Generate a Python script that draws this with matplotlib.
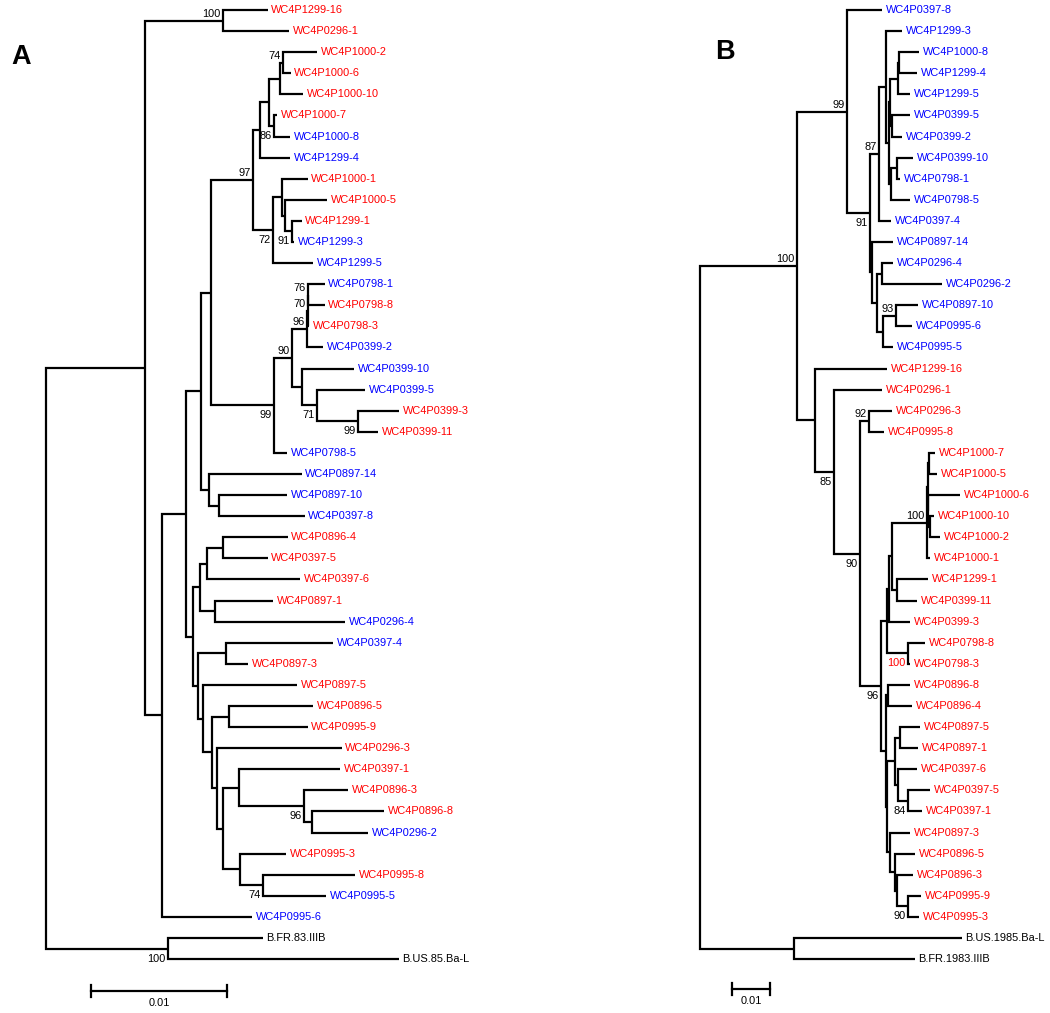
import matplotlib
matplotlib.use("Agg")
import matplotlib.pyplot as plt

plt.rcParams['font.family'] = ['Liberation Sans', 'DejaVu Sans']

COLORS = {'r': '#ff0000', 'b': '#0000ff', 'k': 'black'}
FS = 7.9

# ---------------- panel A ----------------
a_leaves = ["WC4P1299-16", "WC4P0296-1", "WC4P1000-2", "WC4P1000-6", "WC4P1000-10",
            "WC4P1000-7", "WC4P1000-8", "WC4P1299-4", "WC4P1000-1", "WC4P1000-5",
            "WC4P1299-1", "WC4P1299-3", "WC4P1299-5", "WC4P0798-1", "WC4P0798-8",
            "WC4P0798-3", "WC4P0399-2", "WC4P0399-10", "WC4P0399-5", "WC4P0399-3",
            "WC4P0399-11", "WC4P0798-5", "WC4P0897-14", "WC4P0897-10", "WC4P0397-8",
            "WC4P0896-4", "WC4P0397-5", "WC4P0397-6", "WC4P0897-1", "WC4P0296-4",
            "WC4P0397-4", "WC4P0897-3", "WC4P0897-5", "WC4P0896-5", "WC4P0995-9",
            "WC4P0296-3", "WC4P0397-1", "WC4P0896-3", "WC4P0896-8", "WC4P0296-2",
            "WC4P0995-3", "WC4P0995-8", "WC4P0995-5", "WC4P0995-6", "B.FR.83.IIIB",
            "B.US.85.Ba-L"]
a_group = list("rrrrrrbbrrrbbbrrbbbrrbbbbrrrrbbrrrrrrrrbrrbbkk")
# distance from root (substitutions/site)
a_tip = [0.01632, 0.01787, 0.01993, 0.01801, 0.01890, 0.01699, 0.01794, 0.01794,
         0.01926, 0.02066, 0.01882, 0.01824, 0.01963, 0.02051, 0.02051, 0.01934,
         0.02037, 0.02265, 0.02346, 0.02596, 0.02441, 0.01772, 0.01882, 0.01772,
         0.01904, 0.01779, 0.01632, 0.01868, 0.01669, 0.02199, 0.02110, 0.01485,
         0.01846, 0.01963, 0.01926, 0.02176, 0.02162, 0.02221, 0.02485, 0.02368,
         0.01765, 0.02272, 0.02059, 0.01515, 0.01596, 0.02596]

a_nodes = ["aR", "aN1", "aC1", "aN2", "aN3", "aN4", "aN5", "a97", "aY", "aX", "a74p",
           "a74", "a86", "a72", "aQ", "aP", "a91", "a99", "a90", "a96", "a70", "a76",
           "a302", "a71", "a99b", "aN6", "a219", "a193", "a200", "a207", "a223",
           "a215", "a198", "a226", "a203", "a212", "a229", "a217", "a223b", "a239",
           "a96b", "a312", "a240", "a74b", "aOG"]
a_kids = [("aN1", "aOG"), ("aC1", "aN2"), ("WC4P1299-16", "WC4P0296-1"),
          ("aN3", "WC4P0995-6"), ("aN4", "a193"), ("aN5", "aN6"), ("a97", "a99"),
          ("aY", "a72"), ("aX", "WC4P1299-4"), ("a74p", "a86"), ("a74", "WC4P1000-10"),
          ("WC4P1000-2", "WC4P1000-6"), ("WC4P1000-7", "WC4P1000-8"),
          ("aQ", "WC4P1299-5"), ("WC4P1000-1", "aP"), ("WC4P1000-5", "a91"),
          ("WC4P1299-1", "WC4P1299-3"), ("a90", "WC4P0798-5"), ("a96", "a302"),
          ("a70", "WC4P0399-2"), ("a76", "WC4P0798-3"), ("WC4P0798-1", "WC4P0798-8"),
          ("WC4P0399-10", "a71"), ("WC4P0399-5", "a99b"), ("WC4P0399-3", "WC4P0399-11"),
          ("WC4P0897-14", "a219"), ("WC4P0897-10", "WC4P0397-8"), ("a200", "a198"),
          ("a207", "a215"), ("a223", "WC4P0397-6"), ("WC4P0896-4", "WC4P0397-5"),
          ("WC4P0897-1", "WC4P0296-4"), ("a226", "a203"), ("WC4P0397-4", "WC4P0897-3"),
          ("WC4P0897-5", "a212"), ("a229", "a217"), ("WC4P0896-5", "WC4P0995-9"),
          ("WC4P0296-3", "a223b"), ("a239", "a240"), ("WC4P0397-1", "a96b"),
          ("WC4P0896-3", "a312"), ("WC4P0896-8", "WC4P0296-2"), ("WC4P0995-3", "a74b"),
          ("WC4P0995-8", "WC4P0995-5"), ("B.FR.83.IIIB", "B.US.85.Ba-L")]
a_depth = [0.0, 0.00728, 0.01301, 0.00853, 0.01029, 0.01140, 0.01213, 0.01522, 0.01574,
           0.01640, 0.01721, 0.01743, 0.01676, 0.01669, 0.01735, 0.01757, 0.01809,
           0.01676, 0.01809, 0.01919, 0.01923, 0.01926, 0.01882, 0.01993, 0.02294,
           0.01199, 0.01272, 0.01081, 0.01132, 0.01184, 0.01301, 0.01243, 0.01118,
           0.01324, 0.01154, 0.01221, 0.01346, 0.01257, 0.01301, 0.01419, 0.01897,
           0.01956, 0.01426, 0.01596, 0.00897]
a_support = {"aC1": 100, "a97": 97, "a74": 74, "a86": 86, "a72": 72, "a91": 91,
             "a99": 99, "a90": 90, "a96": 96, "a70": 70, "a76": 76, "a71": 71,
             "a99b": 99, "a96b": 96, "a74b": 74, "aOG": 100}
a_below = {"a86", "a72", "a91", "a99", "a71", "a99b", "a96b", "a74b", "aOG"}

# ---------------- panel B ----------------
b_leaves = ["WC4P0397-8", "WC4P1299-3", "WC4P1000-8", "WC4P1299-4", "WC4P1299-5",
            "WC4P0399-5", "WC4P0399-2", "WC4P0399-10", "WC4P0798-1", "WC4P0798-5",
            "WC4P0397-4", "WC4P0897-14", "WC4P0296-4", "WC4P0296-2", "WC4P0897-10",
            "WC4P0995-6", "WC4P0995-5", "WC4P1299-16", "WC4P0296-1", "WC4P0296-3",
            "WC4P0995-8", "WC4P1000-7", "WC4P1000-5", "WC4P1000-6", "WC4P1000-10",
            "WC4P1000-2", "WC4P1000-1", "WC4P1299-1", "WC4P0399-11", "WC4P0399-3",
            "WC4P0798-8", "WC4P0798-3", "WC4P0896-8", "WC4P0896-4", "WC4P0897-5",
            "WC4P0897-1", "WC4P0397-6", "WC4P0397-5", "WC4P0397-1", "WC4P0897-3",
            "WC4P0896-5", "WC4P0896-3", "WC4P0995-9", "WC4P0995-3", "B.US.1985.Ba-L",
            "B.FR.1983.IIIB"]
b_group = list("b" * 17 + "r" * 27 + "kk")
b_tip = [0.04828, 0.05358, 0.05809, 0.05756, 0.05570, 0.05570, 0.05358, 0.05650,
         0.05305, 0.05570, 0.05066, 0.05119, 0.05119, 0.06419, 0.05782, 0.05623,
         0.05119, 0.04960, 0.04828, 0.05093, 0.04881, 0.06233, 0.06286, 0.06897,
         0.06207, 0.06366, 0.06101, 0.06048, 0.05756, 0.05570, 0.05968, 0.05570,
         0.05570, 0.05623, 0.05836, 0.05782, 0.05756, 0.06101, 0.05889, 0.05570,
         0.05703, 0.05650, 0.05862, 0.05809, 0.06950, 0.05703]

b_nodes = ["bR", "b1", "b99", "b91", "b87", "b886", "bG", "bP", "bBb", "bBa", "bBx",
           "bQ", "bBc", "b872", "b877", "b882", "b883", "b93", "b815", "b834", "b860",
           "b92", "b96", "b887", "b889", "b892", "b100", "bX", "bY", "bZ", "bW",
           "b897", "b908", "b886c", "b888", "b887c", "b895", "b900", "b898", "b84",
           "b890b", "b895b", "b897b", "b90b", "bOG"]
b_kids = [("b1", "bOG"), ("b99", "b815"), ("WC4P0397-8", "b91"), ("b87", "b872"),
          ("b886", "WC4P0397-4"), ("WC4P1299-3", "bG"), ("bP", "bQ"), ("bBb", "bBx"),
          ("bBa", "WC4P1299-5"), ("WC4P1000-8", "WC4P1299-4"), ("WC4P0399-5", "WC4P0399-2"),
          ("bBc", "WC4P0798-5"), ("WC4P0399-10", "WC4P0798-1"), ("WC4P0897-14", "b877"),
          ("b882", "b883"), ("WC4P0296-4", "WC4P0296-2"), ("b93", "WC4P0995-5"),
          ("WC4P0897-10", "WC4P0995-6"), ("WC4P1299-16", "b834"), ("WC4P0296-1", "b860"),
          ("b92", "b96"), ("WC4P0296-3", "WC4P0995-8"), ("b887", "b886c"),
          ("b889", "b908"), ("b892", "WC4P0399-3"), ("b100", "b897"),
          ("bX", "WC4P1000-1"), ("bY", "bZ"), ("WC4P1000-7", "WC4P1000-5"),
          ("WC4P1000-6", "bW"), ("WC4P1000-10", "WC4P1000-2"),
          ("WC4P1299-1", "WC4P0399-11"), ("WC4P0798-8", "WC4P0798-3"),
          ("b888", "b887c"), ("WC4P0896-8", "WC4P0896-4"), ("b895", "b890b"),
          ("b900", "b898"), ("WC4P0897-5", "WC4P0897-1"), ("WC4P0397-6", "b84"),
          ("WC4P0397-5", "WC4P0397-1"), ("WC4P0897-3", "b895b"), ("WC4P0896-5", "b897b"),
          ("WC4P0896-3", "b90b"), ("WC4P0995-9", "WC4P0995-3"),
          ("B.US.1985.Ba-L", "B.FR.1983.IIIB")]
b_depth = [0.0, 0.02573, 0.03899, 0.04509, 0.04748, 0.04934, 0.05013, 0.05040, 0.05252,
           0.05279, 0.05080, 0.05066, 0.05225, 0.04562, 0.04695, 0.04828, 0.04841,
           0.05199, 0.03050, 0.03554, 0.04244, 0.04483, 0.04801, 0.04960, 0.05013,
           0.05093, 0.06021, 0.06048, 0.06074, 0.06061, 0.06088, 0.05225, 0.05517,
           0.04934, 0.04987, 0.04973, 0.05172, 0.05305, 0.05252, 0.05517, 0.05040,
           0.05172, 0.05225, 0.05517, 0.02493]
b_support = {"b1": 100, "b99": 99, "b91": 91, "b87": 87, "b93": 93, "b834": 85,
             "b860": 90, "b92": 92, "b96": 96, "b100": 100, "b908": 100, "b84": 84,
             "b90b": 90}
b_below = {"b91", "b834", "b860", "b96", "b908", "b84", "b90b"}
b_red_support = {"b908"}

scale_len = 0.01


def draw_tree(ax, leaves, groups, tips, nodes, kids, depths, support, below, red=()):
    x = dict(zip(leaves, tips))
    x.update(zip(nodes, depths))
    kid = dict(zip(nodes, kids))
    y = {name: i for i, name in enumerate(leaves)}

    def ypos(n):
        if n not in y:
            y[n] = (ypos(kid[n][0]) + ypos(kid[n][-1])) / 2
        return y[n]

    for n in nodes:
        ypos(n)
    for n in nodes:
        c1, c2 = kid[n][0], kid[n][-1]
        ax.plot([x[c1], x[n], x[n], x[c2]], [y[c1], y[c1], y[c2], y[c2]],
                color='black', lw=1.6, solid_joinstyle='miter', solid_capstyle='butt')
        if n in support:
            dy = -10 if n in below else 7
            ax.annotate(str(support[n]), (x[n], y[n]), xytext=(-2, dy),
                        textcoords='offset pixels', ha='right', va='center',
                        fontsize=FS, color='#ff0000' if n in red else 'black')
    for name, g in zip(leaves, groups):
        ax.annotate(name, (x[name], y[name]), xytext=(3.5, 0), textcoords='offset pixels',
                    ha='left', va='center', fontsize=FS, color=COLORS[g])


def scale_bar(ax, x0, yb):
    ax.plot([x0, x0 + scale_len], [yb, yb], color='black', lw=1.6)
    for xx in (x0, x0 + scale_len):
        ax.plot([xx, xx], [yb - 0.28, yb + 0.28], color='black', lw=1.6)
    ax.text(x0 + scale_len / 2, yb + 0.55, str(scale_len), ha='center', va='center',
            fontsize=FS)


W, H = 1050, 1013
fig = plt.figure(figsize=(W / 100, H / 100), dpi=100)

# leaf i sits at pixel 10 + 21.09*i
ylim = ((H - 10) / 21.09, -10 / 21.09)

axA = fig.add_axes([0, 0, 525 / W, 1])
axA.set_xlim(-46 / 13600, 479 / 13600)
axA.set_ylim(*ylim)
axA.axis('off')
draw_tree(axA, a_leaves, a_group, a_tip, a_nodes, a_kids, a_depth, a_support, a_below)
scale_bar(axA, 45 / 13600, (991 - 10) / 21.09)

axB = fig.add_axes([525 / W, 0, 525 / W, 1])
axB.set_xlim(-175 / 3770, 350 / 3770)
axB.set_ylim(*ylim)
axB.axis('off')
draw_tree(axB, b_leaves, b_group, b_tip, b_nodes, b_kids, b_depth, b_support, b_below,
          b_red_support)
scale_bar(axB, 32 / 3770, (989 - 10) / 21.09)

fig.text(21.5 / W, 1 - 57.5 / H, 'A', ha='center', va='center', fontsize=19.5,
         weight='bold')
fig.text(725 / W, 1 - 52 / H, 'B', ha='center', va='center', fontsize=19.5,
         weight='bold')

fig.savefig('out.png', dpi=100)
